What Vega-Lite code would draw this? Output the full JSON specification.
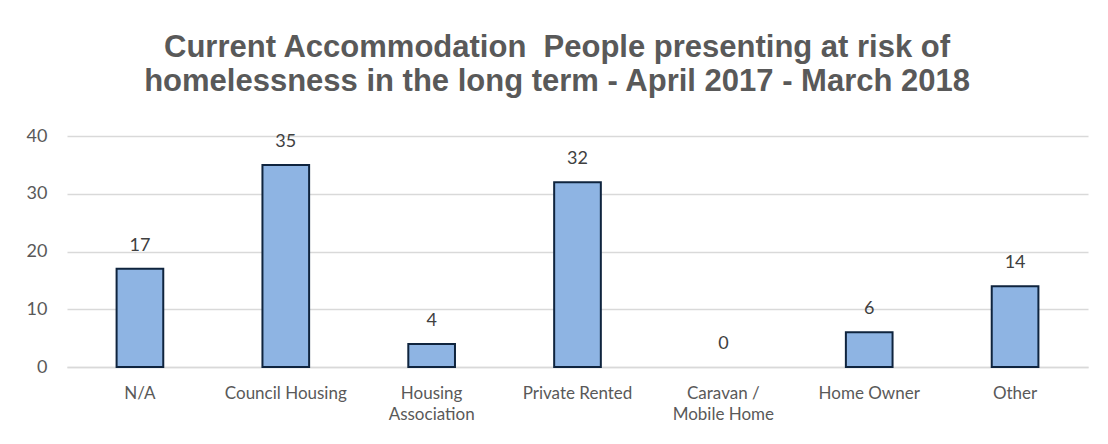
{
  "$schema": "https://vega.github.io/schema/vega-lite/v6.json",
  "width": 1108,
  "height": 444,
  "autosize": {"type": "fit", "contains": "padding"},
  "padding": {"left": 26, "right": 20, "top": 32, "bottom": 22},
  "background": "white",
  "title": {
    "text": ["Current Accommodation \u00a0People presenting at risk of", "homelessness in the long term - April 2017 - March 2018"],
    "font": "Liberation Sans",
    "fontSize": 31,
    "fontWeight": "bold",
    "color": "#595959",
    "lineHeight": 34,
    "offset": 29,
    "anchor": "middle",
    "frame": "bounds"
  },
  "data": {
    "values": [
      {"category": "N/A", "count": 17},
      {"category": "Council Housing", "count": 35},
      {"category": "Housing|Association", "count": 4},
      {"category": "Private Rented", "count": 32},
      {"category": "Caravan /|Mobile Home", "count": 0},
      {"category": "Home Owner", "count": 6},
      {"category": "Other", "count": 14}
    ]
  },
  "encoding": {
    "x": {
      "field": "category",
      "type": "nominal",
      "sort": ["N/A", "Council Housing", "Housing|Association", "Private Rented", "Caravan /|Mobile Home", "Home Owner", "Other"],
      "scale": {"paddingInner": 0.68, "paddingOuter": 0.34},
      "axis": {
        "title": null,
        "labelAngle": 0,
        "labelExpr": "split(datum.label, '|')",
        "labelFont": "Lato",
        "labelFontSize": 17,
        "labelColor": "#595959",
        "labelPadding": 18,
        "labelLineHeight": 21,
        "ticks": false,
        "domainColor": "#D9D9D9",
        "domainWidth": 1.5
      }
    },
    "y": {
      "field": "count",
      "type": "quantitative",
      "scale": {"domain": [0, 40]},
      "axis": {
        "title": null,
        "values": [0, 10, 20, 30, 40],
        "labelFont": "Lato",
        "labelFontSize": 18,
        "labelColor": "#595959",
        "labelPadding": 20,
        "ticks": false,
        "domain": false,
        "gridColor": "#D9D9D9",
        "gridWidth": 1.5
      }
    }
  },
  "layer": [
    {
      "transform": [{"filter": "datum.count > 0"}],
      "mark": {"type": "bar", "fill": "#8EB4E3", "stroke": "#0F243E", "strokeWidth": 2}
    },
    {
      "mark": {"type": "text", "baseline": "alphabetic", "dy": -18, "font": "Lato", "fontSize": 18, "color": "#404040"},
      "encoding": {"text": {"field": "count", "type": "quantitative"}}
    }
  ],
  "config": {"view": {"stroke": null}}
}
